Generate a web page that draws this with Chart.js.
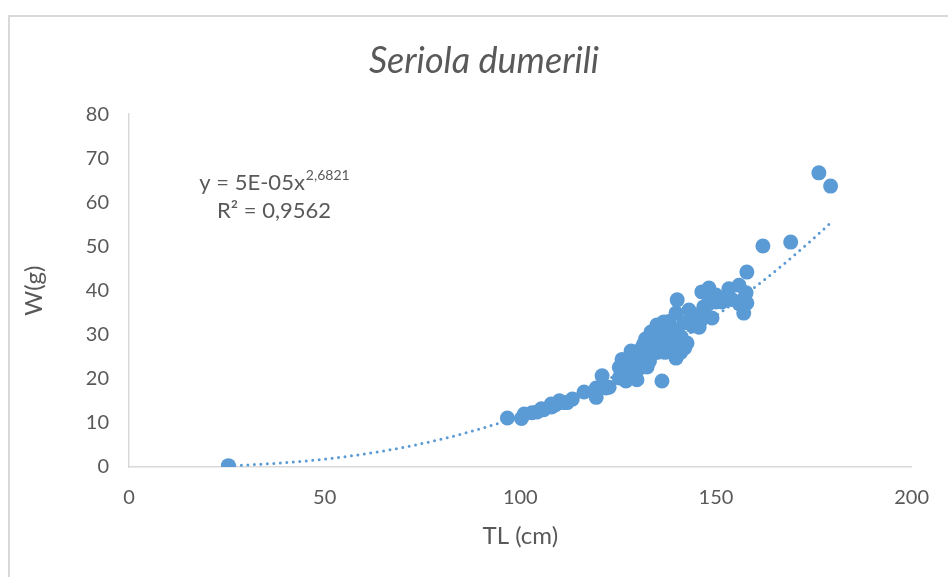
<!DOCTYPE html>
<html>
<head>
<meta charset="utf-8">
<script src="https://cdn.jsdelivr.net/npm/chart.js@4.4.1/dist/chart.umd.min.js"></script>
<style>
  html, body { margin: 0; padding: 0; background: #ffffff; }
  #wrap { position: relative; width: 948px; height: 577px; overflow: hidden; }
  #frame {
    position: absolute; left: 8px; top: 15px; width: 1000px; height: 700px;
    border-left: 2px solid #d9d9d9; border-top: 2px solid #d9d9d9;
  }
  canvas { position: absolute; left: 0; top: 0; }
</style>
</head>
<body>
<div id="wrap">
  <div id="frame"></div>
  <canvas id="c" width="948" height="577"></canvas>
</div>
<script>
// Total length TL (cm) of each fish
const lengthTL = [
  25.4, 96.7, 100.3, 101.0, 103.0, 104.3, 105.4, 106.0, 107.9, 108.0, 109.0, 110.0,
  111.0, 112.0, 113.3, 116.3, 119.4, 119.4, 120.9, 121.9, 122.7, 125.3, 125.3, 126.0,
  126.0, 127.0, 127.0, 127.3, 128.0, 128.0, 128.3, 129.0, 129.0, 129.8, 129.8, 130.0,
  130.0, 131.0, 131.0, 131.0, 131.6, 132.0, 132.0, 132.4, 133.0, 133.0, 133.4, 134.0,
  134.0, 134.2, 134.9, 135.0, 135.0, 136.0, 136.0, 136.2, 136.7, 136.7, 137.0, 137.0,
  138.0, 138.0, 138.5, 139.0, 139.0, 139.8, 139.8, 140.0, 140.0, 140.1, 141.0, 141.1,
  141.8, 142.0, 142.6, 143.0, 143.1, 144.0, 144.4, 145.7, 146.0, 146.4, 146.9, 147.0,
  148.0, 148.2, 149.0, 149.0, 150.0, 150.0, 151.5, 152.0, 153.3, 154.0, 155.9, 156.0,
  157.0, 157.1, 157.7, 157.9, 157.9, 162.0, 169.1, 176.3, 179.3
];
// Weight W of each fish, same order as lengthTL
const weightW = [
  0.3, 11.1, 11.0, 12.0, 12.3, 12.5, 13.2, 13.0, 14.3, 13.6, 14.1, 15.0,
  14.6, 14.6, 15.4, 17.0, 17.9, 15.8, 20.7, 17.9, 18.1, 22.6, 20.2, 24.4,
  22.0, 19.5, 21.0, 22.7, 23.0, 25.0, 26.3, 21.0, 24.0, 19.8, 24.3, 22.0,
  26.0, 23.0, 25.0, 27.0, 28.0, 25.0, 29.0, 22.7, 24.0, 27.0, 30.6, 28.0,
  30.0, 25.9, 32.2, 26.0, 29.0, 27.0, 31.0, 19.5, 28.8, 32.9, 26.0, 30.0,
  28.0, 33.0, 31.7, 27.0, 30.0, 34.9, 24.7, 28.0, 31.0, 37.9, 26.0, 29.5,
  32.7, 27.0, 28.1, 33.0, 35.6, 32.0, 34.5, 31.7, 33.0, 39.7, 36.3, 34.0,
  37.0, 40.6, 33.8, 38.0, 37.4, 39.0, 37.4, 38.0, 40.4, 38.0, 41.2, 37.0,
  38.0, 34.9, 39.5, 44.2, 37.2, 50.1, 51.0, 66.7, 63.7
];

// Power trendline W = a * TL^b, as given in the equation label
const fitA = 5e-05;
const fitB = 2.6821;
const fitR2 = '0,9562';
const fitRange = [25.4, 179.3];

const xTicks = [0, 50, 100, 150, 200];
const yTicks = [0, 10, 20, 30, 40, 50, 60, 70, 80];

const chartTitle = 'Seriola dumerili';
const xTitle = 'TL (cm)';
const yTitle = 'W(g)';

const blue = '#5b9bd5';
const textGray = '#595959';
const axisGray = '#d9d9d9';
const fontFamily = 'Lato, "Open Sans", sans-serif';

const points = lengthTL.map((x, i) => ({ x: x, y: weightW[i] }));

const trend = [];
for (let k = 0; k <= 160; k++) {
  const x = fitRange[0] + (fitRange[1] - fitRange[0]) * k / 160;
  trend.push({ x: x, y: fitA * Math.pow(x, fitB) });
}

// Equation + R² label drawn in the plot area
const equationLabel = {
  id: 'equationLabel',
  afterDatasetsDraw(chart) {
    const ctx = chart.ctx;
    const cx = 274;
    ctx.save();
    ctx.fillStyle = textGray;
    ctx.textBaseline = 'alphabetic';
    const main = 'y = 5E-05x';
    const sup = '2,6821';
    ctx.font = '22px ' + fontFamily;
    const wMain = ctx.measureText(main).width;
    ctx.font = '14px ' + fontFamily;
    const wSup = ctx.measureText(sup).width;
    const left = cx - (wMain + wSup) / 2;
    ctx.font = '22px ' + fontFamily;
    ctx.textAlign = 'left';
    ctx.fillText(main, left, 190);
    ctx.font = '14px ' + fontFamily;
    ctx.fillText(sup, left + wMain + 1, 180);
    ctx.font = '22px ' + fontFamily;
    ctx.textAlign = 'center';
    ctx.fillText('R\u00B2 = ' + fitR2, cx, 218);
    ctx.restore();
  }
};

new Chart(document.getElementById('c'), {
  type: 'scatter',
  data: {
    datasets: [
      {
        label: 'W',
        data: points,
        backgroundColor: blue,
        borderColor: blue,
        borderWidth: 0,
        pointRadius: 7.5,
        pointHoverRadius: 7.5
      },
      {
        label: 'Trend',
        type: 'line',
        data: trend,
        borderColor: blue,
        borderWidth: 3,
        borderDash: [0, 6.5],
        borderCapStyle: 'round',
        pointRadius: 0,
        fill: false,
        tension: 0
      }
    ]
  },
  options: {
    responsive: false,
    animation: false,
    layout: { padding: { left: 20, right: 0, top: 0, bottom: 0 } },
    plugins: {
      legend: { display: false },
      tooltip: { enabled: false },
      title: {
        display: true,
        text: chartTitle,
        color: textGray,
        font: { family: fontFamily, size: 36, style: 'italic', weight: 'normal', lineHeight: 1.2 },
        padding: { top: 40, bottom: 31 }
      }
    },
    scales: {
      x: {
        type: 'linear',
        min: 0, max: 200,
        afterBuildTicks(s) { s.ticks = xTicks.map(v => ({ value: v })); },
        afterFit(s) { s.height = 110; },
        grid: { display: false, drawTicks: false },
        border: { display: true, color: axisGray, width: 1.5 },
        ticks: { color: textGray, font: { family: fontFamily, size: 20 }, padding: 19, maxRotation: 0 },
        title: {
          display: true, text: xTitle, color: textGray,
          font: { family: fontFamily, size: 24 }, padding: { top: 0, bottom: 26 }
        }
      },
      y: {
        type: 'linear',
        min: 0, max: 80,
        afterBuildTicks(s) { s.ticks = yTicks.map(v => ({ value: v })); },
        afterFit(s) { s.width = 109; },
        grid: { display: false, drawTicks: false },
        border: { display: true, color: axisGray, width: 1.5 },
        ticks: { color: textGray, font: { family: fontFamily, size: 20 }, padding: 20 },
        title: {
          display: true, text: yTitle, color: textGray,
          font: { family: fontFamily, size: 24 }, padding: { top: 0, bottom: 0 }
        }
      },
      yRight: {
        type: 'linear',
        position: 'right',
        min: 0, max: 1,
        afterFit(s) { s.width = 35; },
        grid: { display: false, drawTicks: false },
        border: { display: false },
        ticks: { display: false }
      }
    }
  },
  plugins: [equationLabel]
});
</script>
</body>
</html>
